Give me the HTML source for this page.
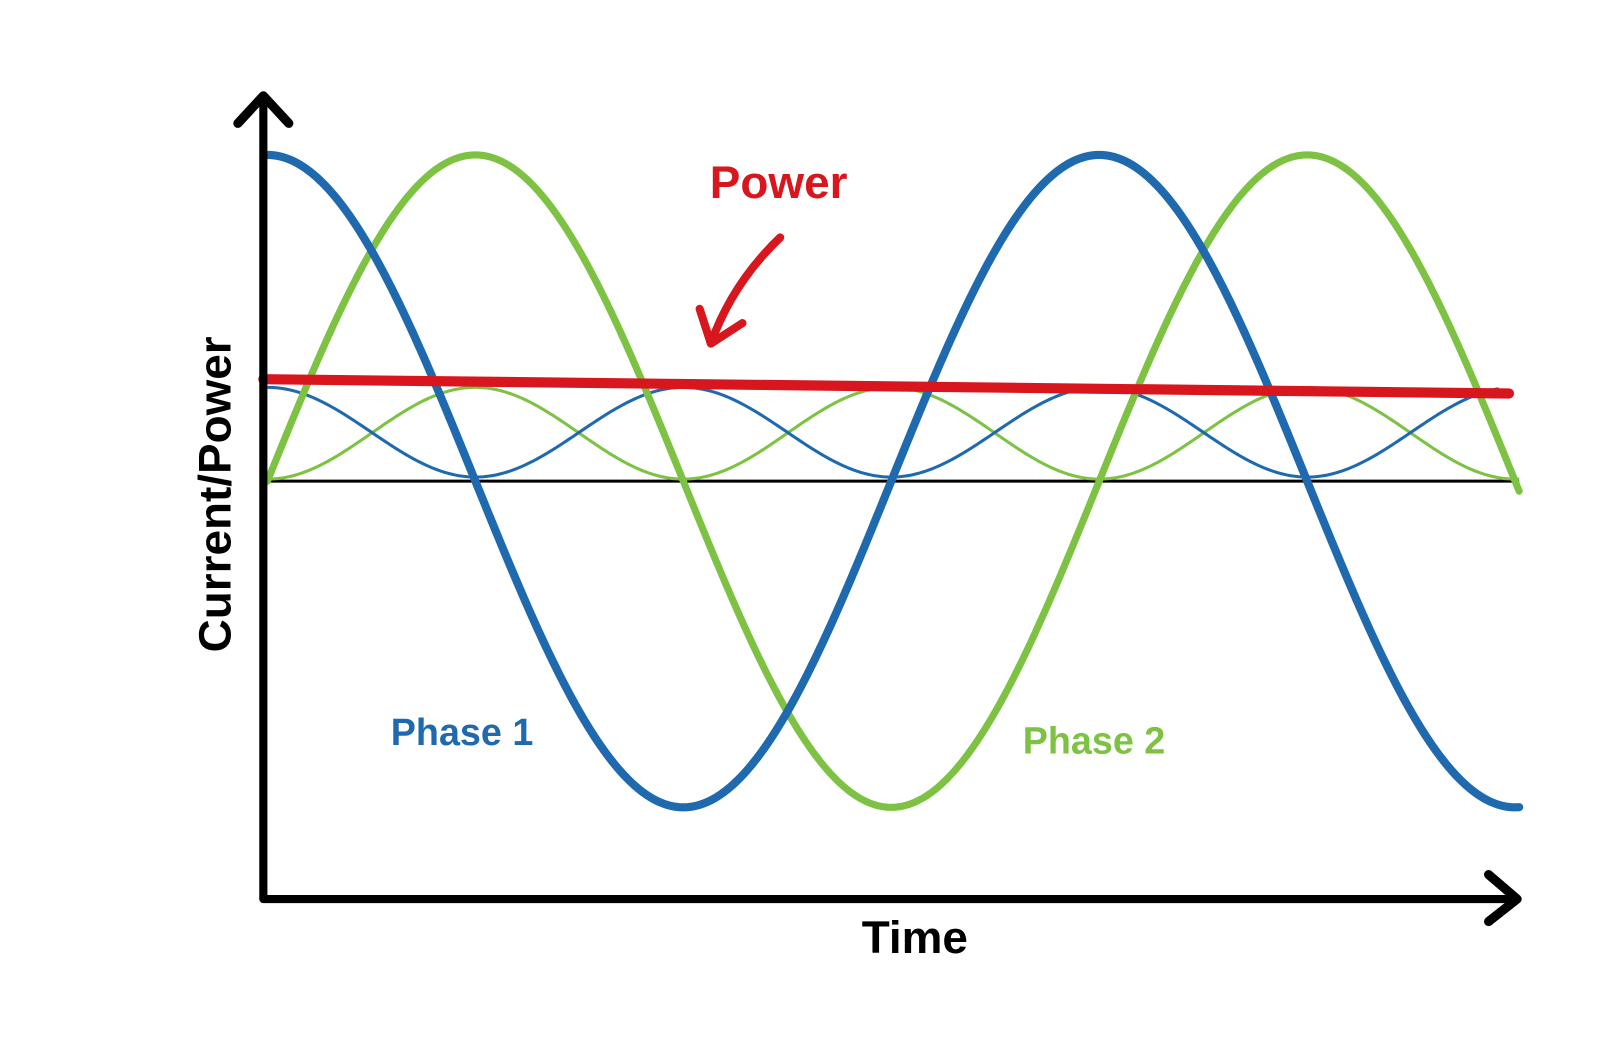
<!DOCTYPE html>
<html><head><meta charset="utf-8"><style>
html,body{margin:0;padding:0;background:#fff;width:1597px;height:1054px;overflow:hidden}
svg{display:block}
text{font-family:"Liberation Sans",sans-serif;font-weight:bold}
</style></head><body>
<svg id="s" width="1597" height="1054" viewBox="0 0 1566 1034" xmlns="http://www.w3.org/2000/svg">
<line x1="262" y1="472" x2="1490" y2="472" stroke="#000" stroke-width="3"/>
<path id="gs" fill="none" stroke="#7dc242" stroke-width="3"/>
<path id="bs" fill="none" stroke="#1f6aae" stroke-width="3"/>
<path id="gb" fill="none" stroke="#7dc242" stroke-width="7" stroke-linecap="round"/>
<path id="bb" fill="none" stroke="#1f6aae" stroke-width="8" stroke-linecap="round"/>
<line x1="258" y1="372" x2="1480" y2="386" stroke="#d7161d" stroke-width="10" stroke-linecap="round"/>
<path d="M765 233 Q718 278 697 337" fill="none" stroke="#d7161d" stroke-width="8" stroke-linecap="round"/>
<path d="M686 303 L697 337 L728 317" fill="none" stroke="#d7161d" stroke-width="8" stroke-linecap="round" stroke-linejoin="round"/>
<line x1="258" y1="94" x2="258" y2="882" stroke="#000" stroke-width="8"/>
<path d="M233 121 L258 94 L283 121" fill="none" stroke="#000" stroke-width="9" stroke-linecap="round" stroke-linejoin="round"/>
<line x1="258" y1="882" x2="1486" y2="882" stroke="#000" stroke-width="8" stroke-linecap="round"/>
<path d="M1460 858 L1488 882 L1460 904" fill="none" stroke="#000" stroke-width="9" stroke-linecap="round" stroke-linejoin="round"/>
<text x="696" y="194" font-size="45" fill="#d7161d">Power</text>
<text x="383" y="731" font-size="37" fill="#1f6aae">Phase 1</text>
<text x="1003" y="739" font-size="37" fill="#7dc242">Phase 2</text>
<text x="845" y="935" font-size="45" fill="#000">Time</text>
<text transform="translate(226 485) rotate(-90)" text-anchor="middle" font-size="45" fill="#000">Current/Power</text>
</svg>
<script>
function mk(f,x0,x1){var d="";for(var x=x0;x<=x1;x+=2){d+=(x==x0?"M":"L")+x+" "+f(x).toFixed(2)+" ";}return d;}
var P=816,w=2*Math.PI/P,x0=262;
document.getElementById("bb").setAttribute("d",mk(function(x){return 472-320*Math.cos(w*(x-x0));},262,1490));
document.getElementById("gb").setAttribute("d",mk(function(x){return 472-320*Math.sin(w*(x-x0));},262,1490));
document.getElementById("bs").setAttribute("d",mk(function(x){var c=Math.cos(w*(x-x0));return 468-88*c*c;},262,1470));
document.getElementById("gs").setAttribute("d",mk(function(x){var c=Math.sin(w*(x-x0));return 470-90*c*c;},262,1490));
</script>
</body></html>
